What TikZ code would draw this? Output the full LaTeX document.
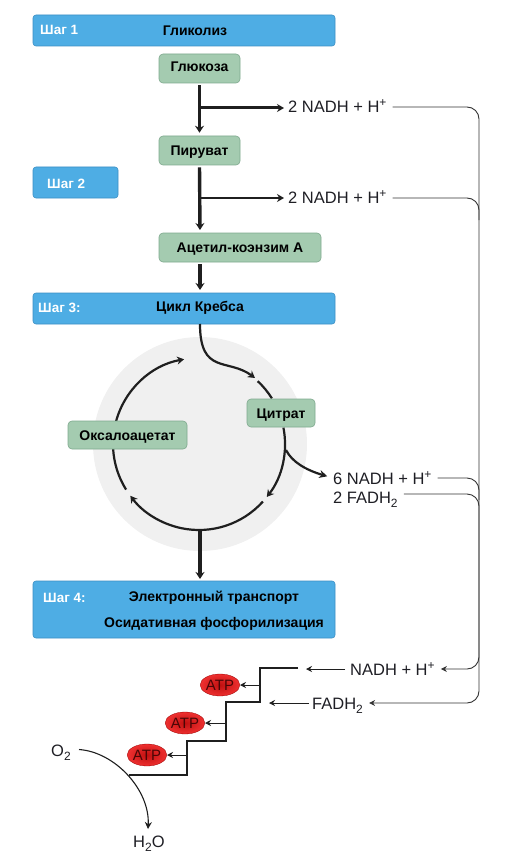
\documentclass[tikz,border=0pt]{standalone}
\usepackage{fontspec}
\setmainfont{Liberation Sans}
\usetikzlibrary{arrows.meta,shapes.geometric}
\definecolor{barblue}{HTML}{4EADE4}
\definecolor{barline}{HTML}{3C8FC4}
\definecolor{molgreen}{HTML}{A4CBB0}
\definecolor{molline}{HTML}{7FA98E}
\definecolor{inktext}{HTML}{1E1E24}
\definecolor{atpcore}{HTML}{C01010}
\definecolor{atprim}{HTML}{EE3030}
\definecolor{atptext}{HTML}{4A0606}
\newcommand{\up}[1]{\raisebox{6pt}{\fontsize{12}{12}\selectfont #1}}
\newcommand{\dn}[1]{\raisebox{-4pt}{\fontsize{12}{12}\selectfont #1}}
\tikzset{
  barbox/.style={draw=barline,fill=barblue,rounded corners=3pt,line width=0.6pt},
  barhead/.style={font=\fontsize{13.5}{15}\bfseries\selectfont,text=white,inner sep=0pt,text height=10pt,text depth=0pt},
  bartitle/.style={font=\fontsize{14}{15}\bfseries\selectfont,text=black,inner sep=0pt,text height=10pt,text depth=0pt},
  molbox/.style={draw=molline,fill=molgreen,rounded corners=4pt,line width=0.6pt,font=\fontsize{14}{15}\bfseries\selectfont,inner sep=0pt,text height=10pt,text depth=0pt},
  chem/.style={font=\fontsize{16.5}{18}\selectfont,text=inktext,inner sep=0pt,anchor=west,text height=12pt,text depth=0pt},
  thickflow/.style={line width=3.4pt,draw=black!88,-{Stealth[length=7pt,width=9pt]}},
  sideflow/.style={line width=3pt,draw=black!88,-{Stealth[length=7pt,width=8pt]}},
  cycflow/.style={line width=2.2pt,draw=black!88},
  thinflow/.style={line width=0.9pt,draw=black!88,-{Stealth[length=6pt,width=6pt]}},
  busline/.style={line width=0.9pt,draw=black!80,rounded corners=12pt},
  atp/.style={ellipse,draw=red!60!black,line width=0.3pt,inner color=atpcore,outer color=atprim,minimum width=34pt,minimum height=22pt,inner sep=0pt,font=\fontsize{15}{16}\selectfont,text=atptext}
}
\begin{document}
\begin{tikzpicture}[x=1pt,y=-1pt]
\useasboundingbox (0,0) rectangle (512,861);
% Step bars
\draw[barbox] (33,15) rectangle (335,46);
\node[barhead,anchor=west] (stepA) at (40,30) {Шаг 1};
\node[bartitle] (glyc) at (195,30.5) {Гликолиз};
\node[barbox,minimum width=85pt,minimum height=31pt,inner sep=0pt] (stepB) at (75.5,182.5) {};
\node[barhead,anchor=west] (stepBtxt) at (47,184) {Шаг 2};
\draw[barbox] (33,293) rectangle (335,324);
\coordinate (barC) at (200,324);
\node[barhead,anchor=west] (stepC) at (38,307) {Шаг 3:};
\node[bartitle] (krebs) at (200,306.5) {Цикл Кребса};
\draw[barbox] (33,581) rectangle (335,638);
\coordinate (barD) at (200,581);
\node[barhead,anchor=west] (stepD) at (43,597) {Шаг 4:};
\node[bartitle] (etc) at (214,596) {Электронный транспорт};
\node[bartitle] (oxph) at (214,622.5) {Осидативная фосфорилизация};
% Molecules on the main line
\node[molbox,minimum width=81pt,minimum height=29pt,text depth=3.5pt] (gluc) at (199.5,68.5) {Глюкоза};
\node[molbox,minimum width=81pt,minimum height=29pt] (pyr) at (199.5,150.5) {Пируват};
\node[molbox,minimum width=162pt,minimum height=29pt] (acet) at (240,247.5) {Ацетил-коэнзим А};
\coordinate (acetout) at (200,262);
\node[chem] (nadhA) at (288,107) {2 NADH + H\up{+}};
\node[chem] (nadhB) at (288,198) {2 NADH + H\up{+}};
\coordinate (forkA) at (200,108);
\coordinate (forkB) at (200,198);
\draw[thickflow,shorten <=2pt,shorten >=3pt] (gluc.south) -- (pyr.north);
\draw[thickflow,shorten <=2pt,shorten >=3pt] (pyr.south) -- (200,233);
\draw[thickflow,shorten <=2pt,shorten >=3pt] (acetout) -- (200,293);
\draw[sideflow,shorten >=4pt] (forkA) -- (nadhA.west |- forkA);
\draw[sideflow,line width=2.4pt,shorten >=4pt] (forkB) -- (nadhB.west |- forkB);
% Krebs cycle
\fill[black!6] (200,444) circle (107);
\coordinate (cyc) at (199,444);
\foreach \a/\b in {-47/-32,148/177} \draw[cycflow] ([shift={(\a:86)}]cyc) arc (\a:\b:86);
\foreach \a/\b in {-11/38,42/143,195/260} \draw[cycflow,-{Stealth[length=7pt,width=8pt]}] ([shift={(\a:86)}]cyc) arc (\a:\b:86);
\node[molbox,minimum width=68pt,minimum height=28pt] (citr) at (281,413) {Цитрат};
\node[molbox,minimum width=119pt,minimum height=28pt] (oxal) at (127.5,435) {Оксалоацетат};
\coordinate (citin) at (255,378);
\coordinate (citfork) at (286,450);
\node[chem] (nadhK) at (333,478) {6 NADH + H\up{+}};
\node[chem] (fadhK) at (333,497) {2 FADH\dn{2}};
\draw[cycflow,-{Stealth[length=7pt,width=8pt]}] (barC) .. controls (200,375) and (228,358) .. (citin);
\draw[cycflow,shorten >=6pt,-{Stealth[length=8pt,width=8pt]}] (citfork) .. controls (292,462) and (306,470) .. (nadhK.west);
\draw[thickflow,shorten >=2pt] (200,530) -- (barD);
% Long lines at the right
\coordinate (bus) at (479,400);
\node[chem] (nadhT) at (350,669) {NADH + H\up{+}};
\node[chem] (fadhT) at (312,703) {FADH\dn{2}};
\draw[busline,shorten <=6pt,shorten >=6pt,-{Stealth[length=6pt,width=6pt]}] (nadhA.east) -- (bus |- nadhA.east) -- (bus |- nadhT.east) -- (nadhT.east);
\draw[busline,shorten <=6pt] (nadhB.east) -| (479,220);
\draw[busline,shorten <=6pt] (nadhK.east) -| (479,500);
\draw[busline,shorten <=6pt,shorten >=6pt,-{Stealth[length=6pt,width=6pt]}] ([yshift=3pt]fadhK.east) -| (bus |- fadhT.east) -- (fadhT.east);
% Energy steps
\draw[line width=2.5pt,draw=black!88] (298,668) -- (260,668) -- (260,702) -- (226,702) -- (226,741) -- (187,741) -- (187,775) -- (129,775);
\draw[thinflow] (nadhT.west) ++(-5,0) -- (306,669);
\draw[thinflow] (fadhT.west) ++(-3,0) -- (269,703);
\foreach \n/\px/\py/\sx in {atpA/220/685/260,atpB/185/723/226,atpC/147/755/187}{
  \node[atp] (\n) at (\px,\py) {ATP};
  \coordinate (\n s) at (\sx,\py);
  \draw[thinflow] (\n s) -- (\n.east);
}
% Oxygen
\node[chem] (oxy) at (51,750) {O\dn{2}};
\node[chem] (wat) at (133,841) {H\dn{2}O};
\coordinate (oxyout) at (79,749.5);
\draw[line width=1.1pt,draw=black!88,-{Stealth[length=7pt,width=7pt]}] (oxyout) .. controls (115,752) and (150,790) .. (148,829);
\end{tikzpicture}
\end{document}
